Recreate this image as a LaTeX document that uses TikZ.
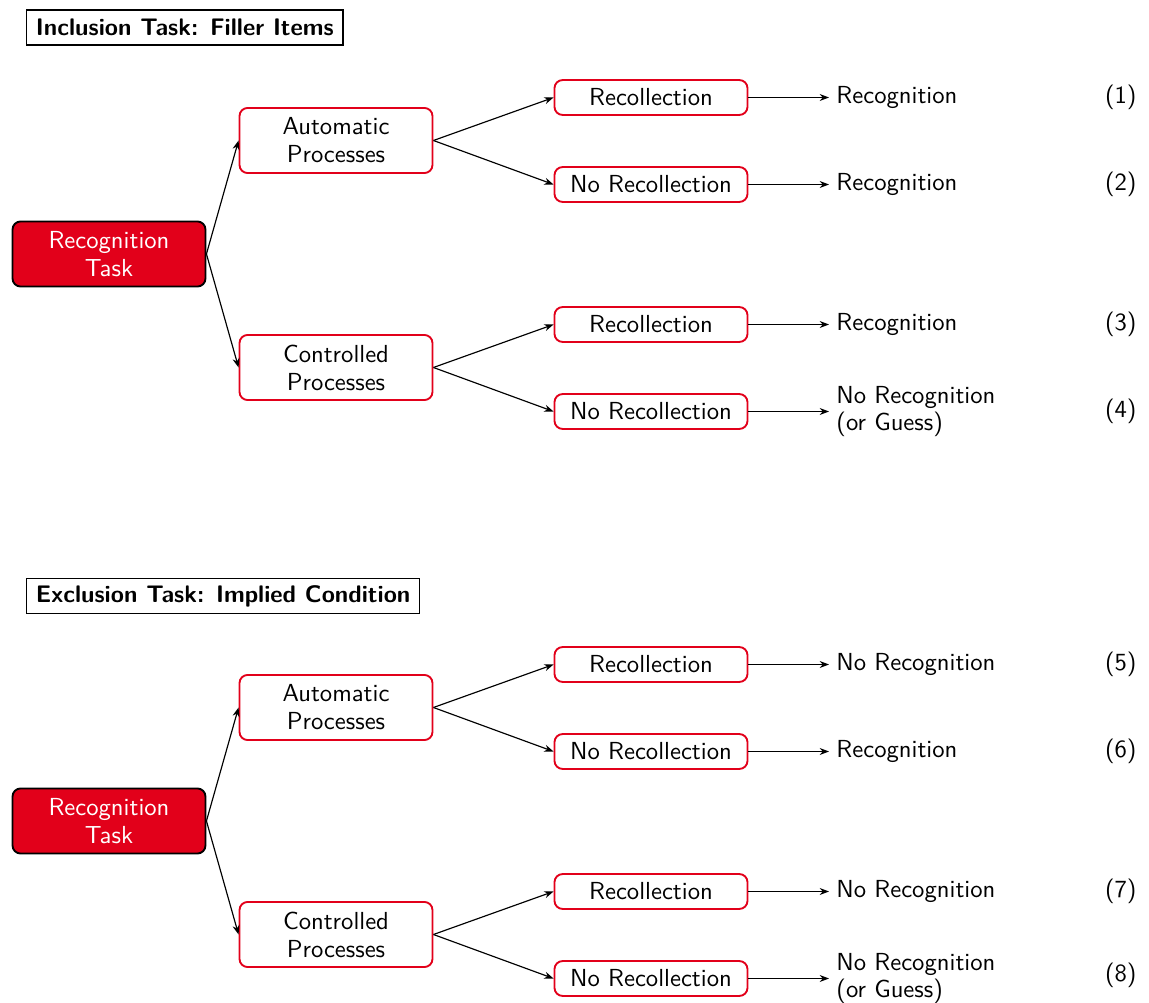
\documentclass[tikz,border=0pt]{standalone}
\usetikzlibrary{arrows.meta}
\definecolor{uired}{RGB}{226,0,26}
\newcommand{\myfont}{\sffamily\fontsize{10.6}{12}\selectfont}
\begin{document}
\begin{tikzpicture}[x=0.43pt,y=-0.43pt,
  font=\myfont,
  every node/.style={font=\myfont},
  header/.style={draw=black, line width=0.6pt, font=\sffamily\bfseries\fontsize{10.3}{12}\selectfont, anchor=west, minimum height=15pt, inner xsep=4pt, inner ysep=2pt},
  taskbox/.style={draw=black, fill=uired, text=white, line width=0.8pt, rounded corners=3.5pt, minimum width=83pt, minimum height=28pt, align=center},
  procbox/.style={draw=uired, fill=white, line width=0.8pt, rounded corners=3.5pt, minimum width=83pt, minimum height=28pt, align=center},
  recbox/.style={draw=uired, fill=white, line width=0.8pt, rounded corners=3.5pt, minimum width=83pt, minimum height=15pt, inner ysep=1pt},
  outc/.style={anchor=west, align=left, inner sep=3pt},
  num/.style={anchor=east, inner sep=0pt},
  conn/.style={-{Stealth[length=4pt,width=3pt]}, line width=0.5pt}
]
\useasboundingbox (0,0) rectangle (1149,1003);

% ---------- upper half ----------
\node[header] (h1) at (26,27.5) {Inclusion Task: Filler Items};
\node[taskbox] (rt1) at (109,254) {Recognition\\Task};
\node[procbox] (ap1) at (336,140.5) {Automatic\\Processes};
\node[procbox] (cp1) at (336,367.5) {Controlled\\Processes};
\node[recbox] (r1) at (651,97.5) {Recollection};
\node[recbox] (n2) at (651,184.5) {No Recollection};
\node[recbox] (r3) at (651,324.5) {Recollection};
\node[recbox] (n4) at (651,411.5) {No Recollection};
\node[outc] (o1) at (829,97.5) {Recognition};
\node[outc] (o2) at (829,184.5) {Recognition};
\node[outc] (o3) at (829,324.5) {Recognition};
\node[outc] (o4) at (829,411.5) {No Recognition\\(or Guess)};
\node[num] (k1) at (1137,97.5) {(1)};
\node[num] (k2) at (1137,184.5) {(2)};
\node[num] (k3) at (1137,324.5) {(3)};
\node[num] (k4) at (1137,411.5) {(4)};

\draw[conn] (rt1.east) -- (ap1.west);
\draw[conn] (rt1.east) -- (cp1.west);
\draw[conn] (ap1.east) -- (r1.west);
\draw[conn] (ap1.east) -- (n2.west);
\draw[conn] (cp1.east) -- (r3.west);
\draw[conn] (cp1.east) -- (n4.west);
\draw[conn] (r1.east) -- (o1.west);
\draw[conn] (n2.east) -- (o2.west);
\draw[conn] (r3.east) -- (o3.west);
\draw[conn] (n4.east) -- (o4.west);

% ---------- lower half ----------
\node[header] (h2) at (26,596) {Exclusion Task: Implied Condition};
\node[taskbox] (rt2) at (109,821) {Recognition\\Task};
\node[procbox] (ap2) at (336,707.5) {Automatic\\Processes};
\node[procbox] (cp2) at (336,934.5) {Controlled\\Processes};
\node[recbox] (r5) at (651,664.5) {Recollection};
\node[recbox] (n6) at (651,751.5) {No Recollection};
\node[recbox] (r7) at (651,891.5) {Recollection};
\node[recbox] (n8) at (651,978.5) {No Recollection};
\node[outc] (o5) at (829,664.5) {No Recognition};
\node[outc] (o6) at (829,751.5) {Recognition};
\node[outc] (o7) at (829,891.5) {No Recognition};
\node[outc] (o8) at (829,978.5) {No Recognition\\(or Guess)};
\node[num] (k5) at (1137,664.5) {(5)};
\node[num] (k6) at (1137,751.5) {(6)};
\node[num] (k7) at (1137,891.5) {(7)};
\node[num] (k8) at (1137,975) {(8)};

\draw[conn] (rt2.east) -- (ap2.west);
\draw[conn] (rt2.east) -- (cp2.west);
\draw[conn] (ap2.east) -- (r5.west);
\draw[conn] (ap2.east) -- (n6.west);
\draw[conn] (cp2.east) -- (r7.west);
\draw[conn] (cp2.east) -- (n8.west);
\draw[conn] (r5.east) -- (o5.west);
\draw[conn] (n6.east) -- (o6.west);
\draw[conn] (r7.east) -- (o7.west);
\draw[conn] (n8.east) -- (o8.west);
\end{tikzpicture}
\end{document}
